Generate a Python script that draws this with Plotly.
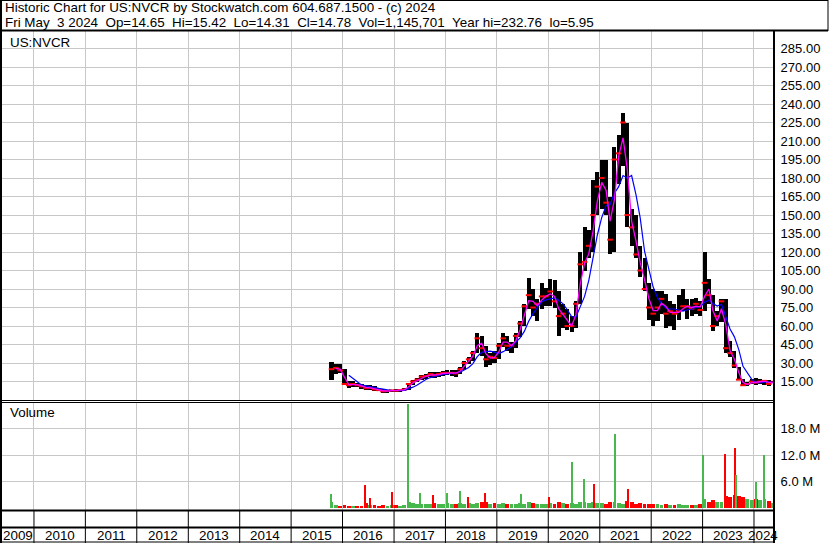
import plotly.graph_objects as go
import pandas as pd

# ---------------- data (monthly) ----------------
months = [
    "2015-10", "2015-11", "2015-12",
    "2016-01", "2016-02", "2016-03", "2016-04", "2016-05", "2016-06",
    "2016-07", "2016-08", "2016-09", "2016-10", "2016-11", "2016-12",
    "2017-01", "2017-02", "2017-03", "2017-04", "2017-05", "2017-06",
    "2017-07", "2017-08", "2017-09", "2017-10", "2017-11", "2017-12",
    "2018-01", "2018-02", "2018-03", "2018-04", "2018-05", "2018-06",
    "2018-07", "2018-08", "2018-09", "2018-10", "2018-11", "2018-12",
    "2019-01", "2019-02", "2019-03", "2019-04", "2019-05", "2019-06",
    "2019-07", "2019-08", "2019-09", "2019-10", "2019-11", "2019-12",
    "2020-01", "2020-02", "2020-03", "2020-04", "2020-05", "2020-06",
    "2020-07", "2020-08", "2020-09", "2020-10", "2020-11", "2020-12",
    "2021-01", "2021-02", "2021-03", "2021-04", "2021-05", "2021-06",
    "2021-07", "2021-08", "2021-09", "2021-10", "2021-11", "2021-12",
    "2022-01", "2022-02", "2022-03", "2022-04", "2022-05", "2022-06",
    "2022-07", "2022-08", "2022-09", "2022-10", "2022-11", "2022-12",
    "2023-01", "2023-02", "2023-03", "2023-04", "2023-05", "2023-06",
    "2023-07", "2023-08", "2023-09", "2023-10", "2023-11", "2023-12",
    "2024-01", "2024-02", "2024-03", "2024-04", "2024-05",
]
high = [
    31, 29, 29,
    25, 15.5, 15.5, 14, 13, 12.5, 12, 11, 10, 9, 8.5, 8.5,
    9, 8.5, 9.5, 14, 16, 17.5, 20, 21, 22.5, 23, 23, 23.5,
    24, 24.5, 24, 27, 32, 34.5, 40, 54, 52, 44, 38, 40,
    46, 54, 52, 47, 54, 64, 78, 99, 90, 82, 95, 91,
    98, 97, 88, 78, 74, 68, 80, 120, 140, 138, 178, 185,
    195, 195, 165, 205, 215, 232.76, 225, 155, 150, 125, 115, 95,
    90, 88, 88, 86, 80, 78, 85, 90, 82, 82, 83, 80,
    120, 98, 85, 72, 82, 82, 48, 40, 27, 17, 15, 17,
    17.5, 17, 16, 16, 15.42,
]
low = [
    16, 21, 22,
    12, 9.5, 10.5, 10.5, 9, 8, 8.5, 7.5, 7, 6, 5.95, 6.5,
    6.5, 6.5, 7.5, 8.5, 12.5, 14.5, 16, 17, 18.5, 18, 18.5, 19.5,
    20, 19.5, 19, 21, 24, 29, 32, 38, 36, 27, 28, 30,
    33, 43, 40, 38, 42, 51, 60, 74, 68, 64, 74, 76,
    76, 75, 52, 58, 57, 55, 58, 78, 105, 115, 120, 150,
    155, 150, 118, 120, 175, 190, 140, 125, 115, 100, 88, 65,
    60, 64, 70, 58, 60, 57, 65, 72, 66, 68, 70, 68,
    72, 78, 56, 60, 63, 38, 35, 26, 16, 11, 11, 13,
    12, 13, 12, 11.5, 14.31,
]
close = [
    25, 26, 24,
    13, 12, 13, 12, 11, 9.5, 10, 8.5, 8, 7, 7.5, 7.8,
    7.5, 8, 8.5, 13, 15, 16.5, 19, 19.5, 21, 20, 21, 22,
    22, 22, 21.5, 25, 30, 33, 38, 50, 42, 33, 35, 34,
    44, 50, 44, 44, 52, 62, 76, 85, 75, 78, 84, 84,
    88, 80, 68, 70, 60, 60, 78, 110, 112, 125, 150, 173,
    180, 160, 130, 195, 200, 225, 150, 140, 118, 105, 90, 75,
    70, 75, 82, 70, 72, 70, 72, 76, 76, 74, 78, 73,
    95, 85, 60, 68, 80, 42, 38, 28, 16.5, 12, 13, 15,
    14, 15, 15.5, 13, 14.78,
]
# typical weekly volume in each month (millions)
volume = [
    1.5, 0.8, 0.6,
    0.7, 0.6, 0.6, 0.5, 0.6, 1.2, 0.8, 0.7, 0.6, 0.7, 0.6, 0.8,
    0.7, 0.6, 0.8, 1.5, 1.2, 1.0, 1.0, 0.9, 0.9, 1.1, 0.9, 1.0,
    1.2, 1.0, 0.9, 1.2, 1.0, 1.1, 0.9, 1.2, 1.4, 1.3, 1.0, 1.1,
    1.0, 1.2, 1.0, 0.9, 0.9, 1.1, 1.0, 1.3, 1.2, 1.0, 1.0, 0.9,
    1.2, 1.0, 1.4, 1.1, 0.9, 1.2, 1.0, 1.5, 1.3, 1.1, 1.4, 1.2,
    1.1, 1.0, 1.5, 1.4, 1.1, 1.0, 1.6, 1.3, 1.0, 1.1, 1.0, 1.0,
    1.0, 0.9, 0.8, 0.9, 0.8, 0.8, 0.9, 0.8, 0.7, 0.8, 0.8, 0.9,
    2.0, 1.5, 1.8, 1.4, 1.5, 2.8, 2.5, 3.0, 2.8, 2.5, 2.0, 1.8,
    2.0, 1.8, 2.0, 1.7, 1.2,
]
# single heavy weeks (millions)
spike_dates = [
    "2015-10-09", "2016-06-10", "2016-07-15", "2016-12-16", "2017-04-07",
    "2017-07-07", "2017-10-06", "2018-01-12", "2018-04-13", "2018-06-08",
    "2018-10-12", "2019-06-21", "2020-01-03", "2020-06-19", "2020-09-11",
    "2020-11-20", "2021-04-16", "2021-07-23", "2023-01-06", "2023-06-09",
    "2023-08-18", "2023-08-25", "2024-01-12", "2024-03-15",
]
spike_volume = [
    3.2, 5.2, 2.3, 3.6, 23.5,
    3.4, 3.0, 3.4, 3.8, 2.6,
    3.4, 3.2, 2.5, 10.4, 6.6,
    5.4, 16.8, 4.3, 12.0, 12.2,
    13.6, 7.5, 6.0, 12.0,
]
spike_up = [
    True, False, False, False, True,
    True, False, True, True, False,
    False, True, False, True, True,
    False, True, False, True, False,
    False, True, True, True,
]

year_labels = [str(y) for y in range(2009, 2025)]
price_ticks = list(range(15, 300, 15))
vol_ticks = [6, 12, 18]
vol_tick_text = ["6.0 M", "12.0 M", "18.0 M"]

header_1 = "Historic Chart for US:NVCR by Stockwatch.com 604.687.1500 - (c) 2024"
header_2 = ("Fri May\u00a0\u00a03 2024\u00a0\u00a0Op=14.65\u00a0\u00a0Hi=15.42\u00a0\u00a0Lo=14.31"
            "\u00a0\u00a0Cl=14.78\u00a0\u00a0Vol=1,145,701\u00a0\u00a0Year hi=232.76\u00a0\u00a0lo=5.95")

# ---------------- derived ----------------
dates = pd.to_datetime([m + "-15" for m in months])
s_close = pd.Series(close)
ma_short = s_close.rolling(2).mean()
ma_long = s_close.rolling(5).mean()
rng = [h - l for h, l in zip(high, low)]
up = [True] + [close[i] >= close[i - 1] for i in range(1, len(close))]
GREEN = "#47b84b"
RED = "#ff0000"
vol_colors = [GREEN if u else RED for u in up]
spike_colors = [GREEN if u else RED for u in spike_up]

DAY = 86400000
W, H = 830, 543
FONT = "Liberation Sans, Arial, sans-serif"
HFS = 13.4

def px_y(y):
    return 1 - y / H

def px_x(x):
    return x / W

fig = go.Figure()

# price bars
fig.add_trace(go.Bar(x=dates, y=rng, base=low, width=29 * DAY,
                     marker=dict(color="black", line=dict(width=0)),
                     xaxis="x", yaxis="y", hoverinfo="skip"))
fig.add_trace(go.Scatter(x=dates, y=close, mode="markers",
                         marker=dict(symbol="line-ew", size=4, color=RED,
                                     line=dict(width=2, color=RED)),
                         xaxis="x", yaxis="y", hoverinfo="skip"))
fig.add_trace(go.Scatter(x=dates, y=ma_long, mode="lines",
                         line=dict(color="#0000ff", width=1.2),
                         xaxis="x", yaxis="y", hoverinfo="skip"))
fig.add_trace(go.Scatter(x=dates, y=ma_short, mode="lines",
                         line=dict(color="#ff00ff", width=1.3),
                         xaxis="x", yaxis="y", hoverinfo="skip"))

# volume
fig.add_trace(go.Bar(x=dates, y=volume, width=27 * DAY,
                     marker=dict(color=vol_colors, line=dict(width=0)),
                     xaxis="x2", yaxis="y2", hoverinfo="skip"))
fig.add_trace(go.Bar(x=pd.to_datetime(spike_dates), y=spike_volume, width=14 * DAY,
                     marker=dict(color=spike_colors, line=dict(width=0)),
                     xaxis="x2", yaxis="y2", hoverinfo="skip"))

year_starts = [f"{y}-01-01" for y in range(2010, 2025)]
x_range = ["2009-05-19", "2024-05-15"]
grid = "#c8c8c8"

xcommon = dict(range=x_range, type="date", domain=[px_x(2), px_x(773)],
               tickmode="array", tickvals=year_starts, showticklabels=False,
               showgrid=True, gridcolor=grid, gridwidth=1, zeroline=False,
               showline=False, ticks="", fixedrange=True)

fig.update_layout(
    width=W, height=H,
    margin=dict(l=0, r=0, t=0, b=0),
    paper_bgcolor="white", plot_bgcolor="white",
    showlegend=False, barmode="overlay", bargap=0,
    font=dict(family=FONT, size=13, color="black"),
    xaxis=dict(anchor="y", **xcommon),
    xaxis2=dict(anchor="y2", matches="x", **xcommon),
    yaxis=dict(domain=[px_y(400), px_y(30)], range=[0, 300], side="right",
               tickmode="array", tickvals=price_ticks,
               ticktext=[f"{v:.2f}" for v in price_ticks],
               showgrid=True, gridcolor=grid, gridwidth=1, zeroline=False,
               showline=False, ticks="outside", ticklen=4,
               tickcolor="rgba(0,0,0,0)", tickfont=dict(size=13, color="black"),
               anchor="x", fixedrange=True),
    yaxis2=dict(domain=[px_y(510), px_y(402)], range=[-0.4, 24], side="right",
                tickmode="array", tickvals=vol_ticks, ticktext=vol_tick_text,
                showgrid=True, gridcolor=grid, gridwidth=1, zeroline=False,
                showline=False, ticks="outside", ticklen=4,
                tickcolor="rgba(0,0,0,0)", tickfont=dict(size=13, color="black"),
                anchor="x2", fixedrange=True),
)

shapes = []
def pline(x0, y0, x1, y1, w=1):
    shapes.append(dict(type="line", xref="paper", yref="paper",
                       x0=px_x(x0), y0=px_y(y0), x1=px_x(x1), y1=px_y(y1),
                       line=dict(color="black", width=w), layer="above"))

# header box
pline(0, 0.5, 828, 0.5, 1)
pline(828, 0, 828, 31, 1)
pline(0, 30.5, 828, 30.5, 2)
# left border
pline(1, 0, 1, 543, 2)
# right axis line
pline(774, 30, 774, 543, 2)
# panel separators
pline(0, 400.5, 774, 400.5, 1)
pline(0, 402.5, 774, 402.5, 1)
pline(0, 510.5, 774, 510.5, 2)
pline(0, 527.5, 774, 527.5, 2)
pline(0, 542, 774, 542, 1)
# year separators in the date rows
for ys in year_starts:
    shapes.append(dict(type="line", xref="x", yref="paper", x0=ys, x1=ys,
                       y0=px_y(543), y1=px_y(511), layer="above",
                       line=dict(color="black", width=1)))
fig.update_layout(shapes=shapes)

ann = []
ann.append(dict(x=px_x(3), y=px_y(8), xref="paper", yref="paper", text=header_1,
                showarrow=False, xanchor="left", yanchor="middle",
                font=dict(size=HFS, color="black", family=FONT)))
ann.append(dict(x=px_x(3), y=px_y(22), xref="paper", yref="paper", text=header_2,
                showarrow=False, xanchor="left", yanchor="middle",
                font=dict(size=HFS, color="black", family=FONT)))
ann.append(dict(x=px_x(8), y=px_y(42), xref="paper", yref="paper", text="US:NVCR",
                showarrow=False, xanchor="left", yanchor="middle",
                font=dict(size=HFS, color="black", family=FONT)))
ann.append(dict(x=px_x(8), y=px_y(413), xref="paper", yref="paper", text="Volume",
                showarrow=False, xanchor="left", yanchor="middle",
                font=dict(size=HFS, color="black", family=FONT)))

# year labels centred in each year's visible span
bounds = [pd.Timestamp(x_range[0])] + [pd.Timestamp(y) for y in year_starts] + [pd.Timestamp(x_range[1])]
for i, lab in enumerate(year_labels):
    mid = bounds[i] + (bounds[i + 1] - bounds[i]) / 2
    ann.append(dict(x=mid, y=px_y(535), xref="x", yref="paper", text=lab,
                    showarrow=False, xanchor="center", yanchor="middle",
                    font=dict(size=HFS, color="black", family=FONT)))
fig.update_layout(annotations=ann)

fig.write_html("out.html", config={"displayModeBar": False, "staticPlot": True},
               post_script="document.body.style.margin='0';document.body.style.overflow='hidden';")
